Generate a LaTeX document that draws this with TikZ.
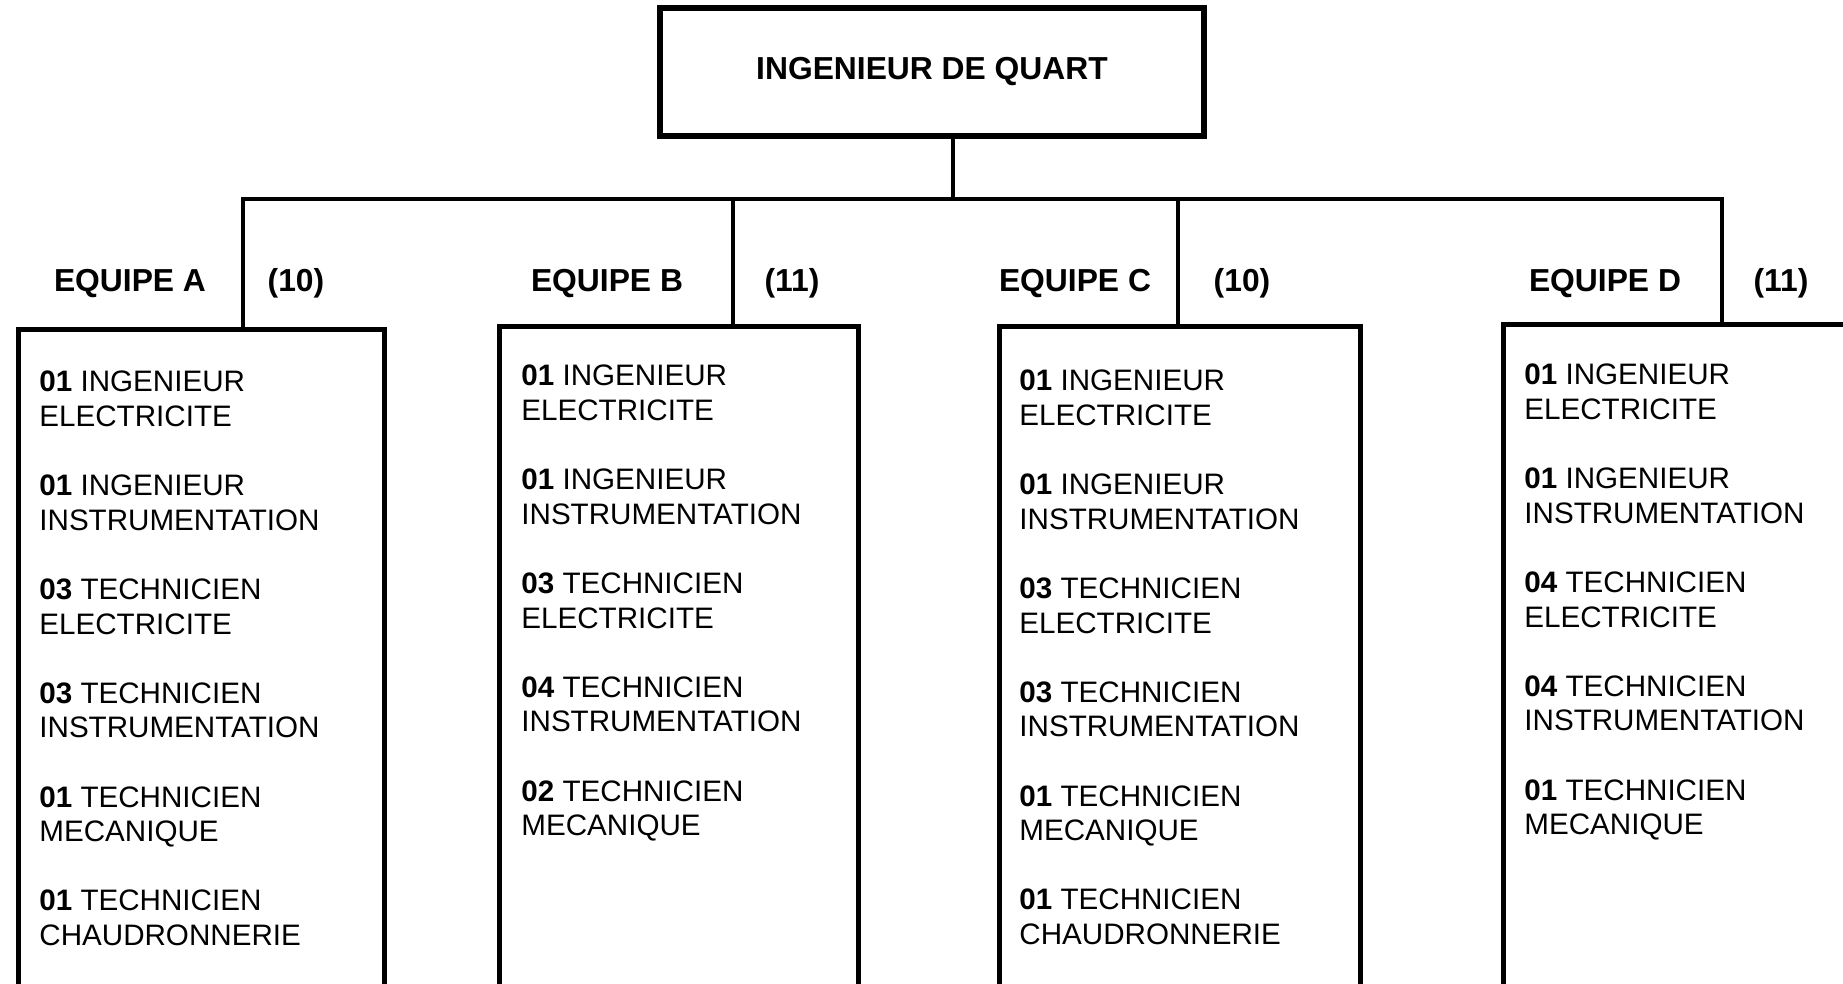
\documentclass[tikz,border=0pt]{standalone}
\usepackage{fontspec}
\setmainfont{Liberation Sans}
\newcommand\eqitem[3]{\textbf{#1} #2\\#3}
\newcommand\itemgap{\\[17.3pt]}
\tikzset{
  teambox/.style={draw, line width=2.6pt, rectangle, inner sep=0pt, anchor=north west,
                  minimum width=180pt, minimum height=340pt},
  topbox/.style={draw, line width=2.6pt, rectangle, inner sep=0pt,
                 minimum width=272pt, minimum height=64pt,
                 font=\fontsize{15.9pt}{18pt}\selectfont\bfseries},
  lbl/.style={anchor=base, inner sep=0pt, font=\fontsize{15.9pt}{18pt}\selectfont\bfseries},
  lst/.style={anchor=base west, inner sep=0pt, align=left},
  conn/.style={line width=2pt},
}
\newcommand\lsttext[1]{\parbox[t]{178pt}{\fontsize{14.8pt}{17.3pt}\selectfont\raggedright #1}}
\begin{document}
\begin{tikzpicture}[x=0.5pt, y=-0.5pt]
\useasboundingbox (0,0) rectangle (1843,984);
\clip (0,0) rectangle (1843,984);
\fill[white] (0,0) rectangle (1843,984);

% top box
\node[topbox] (top) at (932,72) {INGENIEUR DE QUART};

% team boxes
\node[teambox, minimum width=183pt] (boxA) at (16,327) {};
\node[teambox, minimum width=179.5pt] (boxB) at (497,324) {};
\node[teambox, minimum width=180.5pt] (boxC) at (997,324) {};
\node[teambox, minimum width=180pt] (boxD) at (1501,322) {};

% bus coordinates
\coordinate (stem) at (953,199);
\coordinate (busA) at (243,199);
\coordinate (busB) at (733,199);
\coordinate (busC) at (1178,199);
\coordinate (busD) at (1722,199);

% connectors
\draw[conn] (stem |- top.south) -- (stem);
\draw[conn, line cap=rect] (busA) -- (busD);
\draw[conn] (busA) -- (busA |- boxA.north);
\draw[conn] (busB) -- (busB |- boxB.north);
\draw[conn] (busC) -- (busC |- boxC.north);
\draw[conn] (busD) -- (busD |- boxD.north);

% labels
\node[lbl] (labA) at (130,292) {EQUIPE A};
\node[lbl] (numA) at (296,292) {(10)};
\node[lbl] (labB) at (607,292) {EQUIPE B};
\node[lbl] (numB) at (792,292) {(11)};
\node[lbl] (labC) at (1075,292) {EQUIPE C};
\node[lbl] (numC) at (1242,292) {(10)};
\node[lbl] (labD) at (1605,292) {EQUIPE D};
\node[lbl] (numD) at (1781,292) {(11)};

% lists
\node[lst] (lstA) at (39,392) {\lsttext{%
\eqitem{01}{INGENIEUR}{ELECTRICITE}\itemgap
\eqitem{01}{INGENIEUR}{INSTRUMENTATION}\itemgap
\eqitem{03}{TECHNICIEN}{ELECTRICITE}\itemgap
\eqitem{03}{TECHNICIEN}{INSTRUMENTATION}\itemgap
\eqitem{01}{TECHNICIEN}{MECANIQUE}\itemgap
\eqitem{01}{TECHNICIEN}{CHAUDRONNERIE}}};

\node[lst] (lstB) at (521,386) {\lsttext{%
\eqitem{01}{INGENIEUR}{ELECTRICITE}\itemgap
\eqitem{01}{INGENIEUR}{INSTRUMENTATION}\itemgap
\eqitem{03}{TECHNICIEN}{ELECTRICITE}\itemgap
\eqitem{04}{TECHNICIEN}{INSTRUMENTATION}\itemgap
\eqitem{02}{TECHNICIEN}{MECANIQUE}}};

\node[lst] (lstC) at (1019,391) {\lsttext{%
\eqitem{01}{INGENIEUR}{ELECTRICITE}\itemgap
\eqitem{01}{INGENIEUR}{INSTRUMENTATION}\itemgap
\eqitem{03}{TECHNICIEN}{ELECTRICITE}\itemgap
\eqitem{03}{TECHNICIEN}{INSTRUMENTATION}\itemgap
\eqitem{01}{TECHNICIEN}{MECANIQUE}\itemgap
\eqitem{01}{TECHNICIEN}{CHAUDRONNERIE}}};

\node[lst] (lstD) at (1524,385) {\lsttext{%
\eqitem{01}{INGENIEUR}{ELECTRICITE}\itemgap
\eqitem{01}{INGENIEUR}{INSTRUMENTATION}\itemgap
\eqitem{04}{TECHNICIEN}{ELECTRICITE}\itemgap
\eqitem{04}{TECHNICIEN}{INSTRUMENTATION}\itemgap
\eqitem{01}{TECHNICIEN}{MECANIQUE}}};
\end{tikzpicture}
\end{document}
